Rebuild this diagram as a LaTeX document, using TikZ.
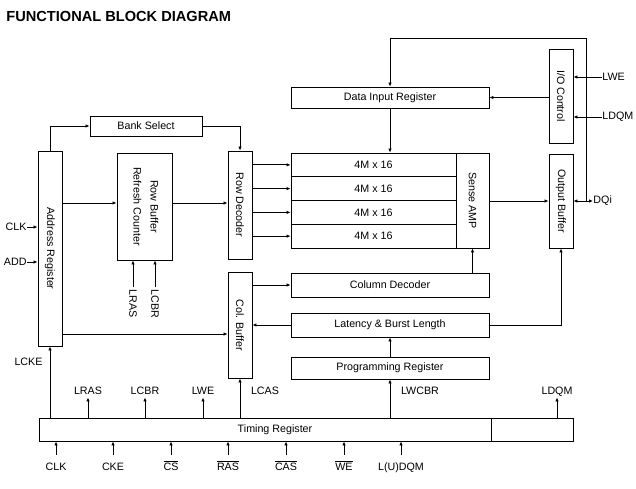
\documentclass[tikz,border=0pt]{standalone}
\usepackage{fontspec}
\setmainfont{Liberation Sans}
\usepackage{graphicx}
\usetikzlibrary{arrows.meta}
\begin{document}
\begin{tikzpicture}[x=1pt,y=-1pt,line width=0.9pt,
  box/.style={draw,inner sep=0pt,font=\fontsize{10.7}{12}\selectfont},
  lbl/.style={inner sep=0pt,font=\fontsize{10.7}{12}\selectfont},
  tl/.style={lbl,anchor=base,text height=8pt,text depth=0pt,inner ysep=3pt},
  bl/.style={lbl,anchor=base,text height=11pt,text depth=0pt,inner ysep=4pt},
  arr/.style={-{Latex[length=4pt,width=3.5pt]}},
  darr/.style={{Latex[length=4pt,width=3.5pt]}-{Latex[length=4pt,width=3.5pt]}}]
\useasboundingbox (0,0) rectangle (636,489);
\node[anchor=base west,inner sep=0pt,font=\fontsize{14.6}{16}\selectfont\bfseries] (title) at (6,21.7) {FUNCTIONAL BLOCK DIAGRAM};

% blocks
\node[box,minimum width=24pt,minimum height=195pt] (addr) at (50,248.5) {\rotatebox{-90}{Address Register}};
\node[box,minimum width=55pt,minimum height=107pt] (rbuf) at (144.5,206.5) {\rotatebox{-90}{\begin{tabular}{@{}c@{}}Row Buffer\\[5pt]Refresh Counter\end{tabular}}};
\node[box,minimum width=112pt,minimum height=20pt] (bank) at (146,126) {Bank Select};
\node[box,minimum width=24pt,minimum height=108pt] (rdec) at (240,205) {\rotatebox{-90}{Row Decoder}};
\node[box,minimum width=165pt,minimum height=23.75pt] (a1) at (373.5,164.875) {4M x 16};
\node[box,minimum width=165pt,minimum height=23.75pt] (a2) at (373.5,188.625) {4M x 16};
\node[box,minimum width=165pt,minimum height=23.75pt] (a3) at (373.5,212.375) {4M x 16};
\node[box,minimum width=165pt,minimum height=23.75pt] (a4) at (373.5,236.125) {4M x 16};
\node[box,minimum width=33pt,minimum height=95pt] (samp) at (472.5,200.5) {\rotatebox{-90}{Sense AMP}};
\node[box,minimum width=198pt,minimum height=21pt] (dir) at (390,97.5) {Data Input Register};
\node[box,minimum width=24pt,minimum height=94pt] (ioc) at (561,96) {\rotatebox{-90}{I/O Control}};
\node[box,minimum width=24pt,minimum height=94pt] (obuf) at (561,201) {\rotatebox{-90}{Output Buffer}};
\node[box,minimum width=198pt,minimum height=24pt] (cdec) at (390,285) {Column Decoder};
\node[box,minimum width=198pt,minimum height=24pt] (lat) at (390,325) {Latency \& Burst Length};
\node[box,minimum width=198pt,minimum height=22pt] (prog) at (390,368) {Programming Register};
\node[box,minimum width=24pt,minimum height=106pt] (cbuf) at (240,325) {\rotatebox{-90}{Col. Buffer}};
\node[box,minimum width=452pt,minimum height=23pt] (timL) at (265,429.5) {};
\node[box,minimum width=82pt,minimum height=23pt] (timR) at (532,429.5) {};
\node[lbl] (tlab) at (275,430) {Timing Register};

% internal connectors
\draw[arr] (addr.north) |- (bank.west);
\draw[arr] (bank.east) -| (rdec.north);
\draw[arr] (addr.east |- 0,203) -- (rbuf.west |- 0,203);
\draw[arr] (rbuf.east |- 0,203) -- (rdec.west |- 0,203);
\draw[arr] (rdec.east |- a1.west) -- (a1.west);
\draw[arr] (rdec.east |- a2.west) -- (a2.west);
\draw[arr] (rdec.east |- a3.west) -- (a3.west);
\draw[arr] (rdec.east |- a4.west) -- (a4.west);
\draw[arr] (dir.south) -- (dir.south |- a1.north);
\draw[arr] (ioc.west |- dir.east) -- (dir.east);
\draw[arr] (samp.east |- obuf.west) -- (obuf.west);
\draw[arr] (samp.south |- cdec.north) -- (samp.south);
\draw[arr] (lat.east) -| (obuf.south);
\draw[arr] (prog.north) -- (lat.south);
\draw[arr] (cbuf.east |- cdec.west) -- (cdec.west);
\draw[arr] (lat.west) -- (cbuf.east |- lat.west);
\draw[arr] (addr.east |- 0,334) -- (cbuf.west |- 0,334);

% I/O side
\node[lbl,anchor=west] (dqi) at (593,201) {DQi};
\draw[darr] (obuf.east) -- (dqi.west);
\coordinate (fb) at (586,201);
\coordinate (fbtop) at (586,38);
\draw[arr] (fb) -- (fbtop) -| (dir.north);
\node[lbl,anchor=west] (rlwe) at (602,77) {LWE};
\draw[arr] (rlwe.west) -- (rlwe.west -| ioc.east);
\node[lbl,anchor=west] (rldqm) at (602,117) {LDQM};
\draw[arr] (rldqm.west) -- (rldqm.west -| ioc.east);

% left inputs
\node[lbl,anchor=east] (lclk) at (27,227) {CLK};
\draw[arr] (lclk.east) -- (lclk.east -| addr.west);
\node[lbl,anchor=east] (ladd) at (27,262) {ADD};
\draw[arr] (ladd.east) -- (ladd.east -| addr.west);

% refresh counter inputs
\node[lbl,rotate=-90,anchor=west,inner xsep=2pt] (rlras) at (133,287) {LRAS};
\draw[arr] (rlras.west) -- (rlras.west |- rbuf.south);
\node[lbl,rotate=-90,anchor=west,inner xsep=2pt] (rlcbr) at (155,287) {LCBR};
\draw[arr] (rlcbr.west) -- (rlcbr.west |- rbuf.south);

% timing register outputs
\node[lbl,anchor=base] (lcke) at (28.5,365) {LCKE};
\draw[arr] (addr.south |- timL.north) -- (addr.south);
\node[tl] (lras) at (88,394) {LRAS};
\draw[arr] (lras.south |- timL.north) -- (lras.south);
\node[tl] (lcbr) at (145,394) {LCBR};
\draw[arr] (lcbr.south |- timL.north) -- (lcbr.south);
\node[tl] (lwe) at (203,394) {LWE};
\draw[arr] (lwe.south |- timL.north) -- (lwe.south);
\node[tl] (lcas) at (265,394) {LCAS};
\draw[arr] (cbuf.south |- timL.north) -- (cbuf.south);
\node[tl] (lwcbr) at (420,394) {LWCBR};
\draw[arr] (prog.south |- timL.north) -- (prog.south);
\node[tl] (ldqm) at (557,394) {LDQM};
\draw[arr] (ldqm.south |- timR.north) -- (ldqm.south);

% timing register inputs
\node[bl] (iclk) at (56,470) {CLK};
\node[bl] (icke) at (113,470) {CKE};
\node[bl] (ics) at (171,470) {$\overline{\mbox{CS}}$};
\node[bl] (iras) at (228,470) {$\overline{\mbox{RAS}}$};
\node[bl] (icas) at (286,470) {$\overline{\mbox{CAS}}$};
\node[bl] (iwe) at (344,470) {$\overline{\mbox{WE}}$};
\node[bl] (idqm) at (401,470) {L(U)DQM};
\foreach \n in {iclk,icke,ics,iras,icas,iwe,idqm}
  \draw[arr] (\n.north) -- (\n.north |- timL.south);
\end{tikzpicture}
\end{document}
